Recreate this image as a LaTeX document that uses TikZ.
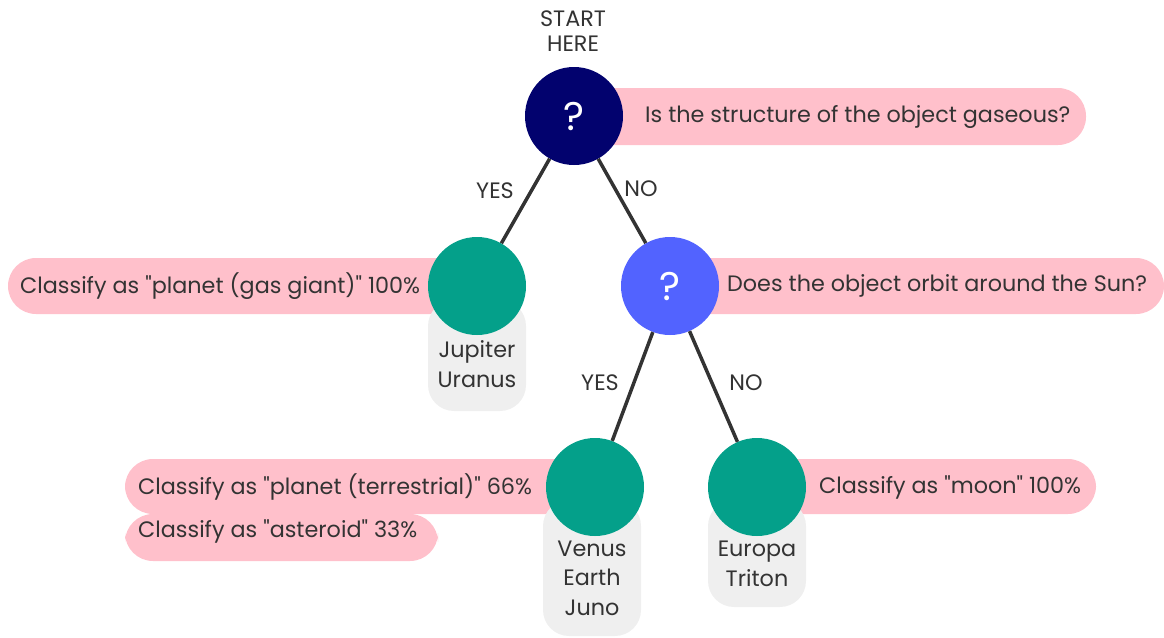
\documentclass[tikz,border=0pt]{standalone}
\usepackage{fontspec}
\setmainfont{Poppins}[Ligatures=TeXOff]
\newcommand\dq{\symbol{34}}
\definecolor{ink}{HTML}{333333}
\definecolor{rootblue}{HTML}{02026E}
\definecolor{askblue}{HTML}{5263FF}
\definecolor{leafteal}{HTML}{04A08A}
\definecolor{barpink}{HTML}{FFC0CB}
\definecolor{boxgray}{HTML}{EFEFEF}
\tikzset{
  txt/.style={font=\fontsize{22.3}{29.5}\selectfont, text=ink, inner sep=0pt},
  bartxt/.style={txt, anchor=west},
  bar/.style={fill=barpink, rounded corners=28pt},
  listbox/.style={fill=boxgray, rounded corners=26pt},
  listtxt/.style={txt, align=center},
  qnode/.style={circle, minimum size=98pt, inner sep=0pt, text=white,
    font=\fontsize{40}{40}\selectfont},
  leaf/.style={circle, minimum size=98pt, inner sep=0pt, fill=leafteal},
  link/.style={draw=ink, line width=3.5pt},
  answer/.style={txt}
}
\begin{document}
\begin{tikzpicture}[x=1pt, y=-1pt]
\useasboundingbox (0,0) rectangle (1164,637);

% label bars and name lists (behind the circles)
\fill[bar] (574,88) rectangle (1086,145);
\fill[bar] (8,258) rectangle (478,314);
\fill[bar] (670,258) rectangle (1164,314);
\fill[bar] (125,514) rectangle (438,561);
\fill[bar] (125,459) rectangle (596,514);
\fill[bar] (757,459) rectangle (1096,514);
\fill[listbox] (428,300) rectangle (526,411);
\fill[listbox] (543,500) rectangle (641,636);
\fill[listbox] (708,500) rectangle (806,607);

% decision nodes
\node[qnode, fill=rootblue] (root) at (574,116) {?};
\node[leaf] (gas) at (477,286) {};
\node[qnode, fill=askblue] (orbit) at (670,286) {?};
\node[leaf] (terr) at (595,487) {};
\node[leaf] (moon) at (757,487) {};

% branches
\draw[link] (root) -- (gas);
\draw[link] (root) -- (orbit);
\draw[link] (orbit) -- (terr);
\draw[link] (orbit) -- (moon);

% branch labels
\node[answer] (yes1) at (495,191) {YES};
\node[answer] (no1) at (641,189) {NO};
\node[answer] (yes2) at (600,383) {YES};
\node[answer] (no2) at (746,383) {NO};

\node[txt, align=center, font=\fontsize{22.3}{25}\selectfont] (start) at (573,31) {START\\HERE};

% questions and outcomes
\node[bartxt] (q1) at (645,116.5) {Is the structure of the object gaseous?};
\node[bartxt] (q2) at (727,286) {Does the object orbit around the Sun?};
\node[bartxt] (c1) at (20,286) {Classify as \dq planet (gas giant)\dq{} 100\%};
\node[bartxt] (c2) at (138,487) {Classify as \dq planet (terrestrial)\dq{} 66\%};
\node[bartxt] (c3) at (138,531) {Classify as \dq asteroid\dq{} 33\%};
\node[bartxt] (c4) at (819,487) {Classify as \dq moon\dq{} 100\%};

% example objects
\node[listtxt] (l1) at (477,364) {Jupiter\\Uranus};
\node[listtxt] (l2) at (592,578) {Venus\\Earth\\Juno};
\node[listtxt] (l3) at (757,564) {Europa\\Triton};
\end{tikzpicture}
\end{document}
